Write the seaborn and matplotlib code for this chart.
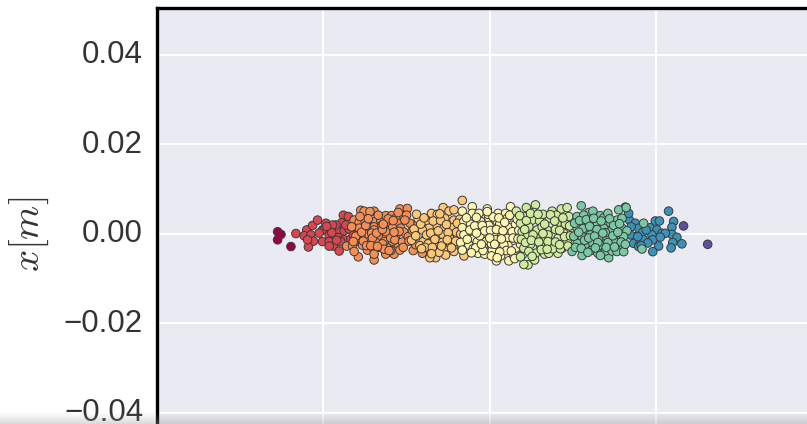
import matplotlib
matplotlib.use("Agg")
import matplotlib.pyplot as plt
import matplotlib.transforms as mtransforms
import numpy as np
import pandas as pd
import seaborn as sns

# Positions, in mm, one pair of lists per colour band
x_dark = [-25.5, -25.1, -25.5, -23.9]
y_dark = [0.5, -0.1, -1.3, -2.8]

x_red = [-23.3, -22.0, -22.3, -21.5, -21.2, -21.8, -21.3, -20.7, -21.9, -19.7, -20.1, -19.9,
         -18.9, -18.2, -17.5, -16.9, -17.6, -17.0, -17.8, -18.5, -19.3, -18.2, -17.5, -20.1,
         -19.3, -18.8, -19.3, -18.1, -16.7, -15.8, -15.7, -18.9, -17.9,
         -20.5, -19.0, -18.4, -17.3, -16.4, -19.6, -16.2]
y_red = [0.1, 0.9, -0.4, -0.2, -1.6, -2.9, 1.9, 3.1, -1.3, 2.4, 0.9, 1.0,
         1.0, 0.8, 0.7, 1.1, 4.2, 3.9, 2.5, 2.0, -0.2, -0.8, -1.3, -1.7,
         -1.7, -2.7, -2.7, -3.8, -1.1, -1.6, 0.5, 2.0, -1.7,
         0.2, 0.3, -1.4, 2.0, -0.3, 1.7, 2.4]

x_orange = [-15.5, -15.1, -13.9, -14.4, -16.3, -15.7, -15.0, -13.7, -13.1, -12.5, -11.8, -10.8,
            -9.9, -10.6, -10.0, -11.3, -12.3, -13.0, -14.5, -13.9, -15.7, -11.1, -11.7, -13.1,
            -10.7, -14.8, -14.0, -13.3, -12.4, -11.3, -13.9, -12.5, -15.5, -17.2, -16.5, -15.3,
            -14.7, -13.9, -13.1, -12.0, -11.1, -14.5, -13.7, -12.7, -11.7, -15.8, -16.3, -13.9,
            -13.9, -12.5, -11.5, -10.8, -9.2, -8.1, -16.0, -14.2, -12.9, -10.3, -9.6, -11.9,
            -16.6, -16.1, -15.4, -15.2, -14.9, -14.6, -14.1, -13.6, -13.4, -12.9, -12.7, -12.2,
            -11.9, -11.6, -11.4, -10.9, -10.5, -10.2, -9.8, -9.3, -8.9, -8.6, -16.4, -15.6,
            -14.8, -14.3, -13.5, -12.8, -12.1, -11.5, -11.0, -10.4, -9.7]
y_orange = [5.3, 5.1, 5.1, 5.0, 3.1, 2.6, 2.9, 2.9, 3.1, 4.1, 4.1, 5.6,
            5.7, 4.2, 4.2, 3.5, 2.6, 1.9, 1.4, 1.6, 1.3, 2.4, 1.4, 1.3,
            1.3, -0.1, -0.2, -0.8, -0.4, -0.4, 0.9, 0.5, -0.6, -2.7, -2.7, -2.5,
            -3.6, -3.6, -3.0, -2.8, -2.1, -1.7, -1.9, -1.7, -1.6, -5.1, -3.9, -5.8,
            -4.5, -4.5, -4.5, -3.6, -3.7, -4.3, -0.9, 0.2, -2.2, 0.4, 2.4, -3.7,
            1.6, -0.5, 0.4, -1.6, 1.9, 3.4, -0.9, 0.2, 4.2, 1.0, -3.4, 3.4,
            -0.9, 3.0, -1.3, 0.6, -1.8, 3.1, -0.6, 0.8, -2.4, 2.3, -1.7, 3.9,
            -2.6, -2.6, -2.8, 2.2, -3.7, 0.4, 4.8, -3.0, -1.6]

x_amber = [-7.0, -5.6, -4.9, -4.3, -6.3, -7.5, -5.4, -4.3, -6.4, -7.3, -5.5, -8.1,
           -6.5, -7.7, -5.6, -4.5, -6.7, -5.7, -8.0, -7.2, -5.5, -4.3, -6.5, -7.2,
           -5.3, -3.1, -3.7, -4.7, -3.3, -2.1, -4.3, -8.6, -9.1, -9.4, -6.1, -8.4,
           -8.8, -8.3, -7.9, -7.6, -7.1, -6.8, -6.2, -5.9, -5.2, -4.8, -4.0, -3.6,
           -8.9, -7.4, -6.6, -6.0, -5.0, -4.1, -3.5, -7.8, -6.9, -5.8, -4.6, -3.9,
           -8.2, -7.0, -5.1, -3.4]
y_amber = [4.6, 5.9, 5.1, 5.4, 4.4, 2.9, 3.5, 3.1, 2.0, 1.3, 1.3, 0.9,
           -0.1, -1.0, -0.2, 1.4, -2.3, -1.9, -1.7, -3.6, -3.2, -3.9, -5.3, -5.3,
           -4.7, -4.9, -0.8, -2.3, 7.5, 0.5, -0.4, 3.4, 1.1, -1.4, -4.1, -2.6,
           4.4, 2.2, 3.6, -0.2, 0.2, 2.9, 0.7, 3.0, 2.1, -1.0, 0.4, 3.3,
           -0.4, -2.2, -1.2, 4.5, 0.3, -1.6, 0.0, -3.0, -3.0, -2.7, -3.1, 2.4,
           -3.3, -4.4, -1.3, -2.8]

x_pale = [-2.1, -3.3, -2.1, -0.3, -1.3, 1.0, 2.5, 1.9, -3.1, -2.3, -3.3, -1.1,
          -0.1, 0.9, 2.1, -1.1, -0.1, 1.2, 2.3, 3.1, -3.1, -1.9, -0.5, 0.5,
          1.5, 2.5, -2.5, -1.5, -0.4, 0.7, 2.1, -3.5, -1.4, -0.6, 0.3, 1.3,
          2.2, 3.1, 3.7, 0.8, 1.3, 2.3, 2.9, 3.9, -3.3, -2.0, -0.8, 0.2, 1.7,
          -2.8, -2.4, -1.8, -1.6, -1.2, -0.9, -0.6, -0.2, 0.1, 0.4, 0.8, 1.1,
          1.6, 1.8, 2.4, 2.7, 3.3, 3.5, -2.7, -1.7, -0.8, 0.0, 0.6, 1.4,
          2.0, 2.8, 3.4, -2.2, -1.0, 0.2, 1.2, 2.6, -1.6, 0.9, 3.0, -0.3]
y_pale = [6.1, 5.1, 4.6, 5.6, 4.6, 4.6, 6.1, 4.6, 2.8, 2.2, 1.4, 2.8,
          3.5, 2.8, 3.5, 1.1, 1.9, 2.2, 1.4, 2.2, -0.2, -1.0, -0.2, 0.15,
          -0.1, -0.2, -2.5, -1.7, -1.6, -1.3, -1.0, -1.9, -4.3, -4.5, -3.6, -3.2,
          -2.6, -3.2, -2.3, -6.0, -4.9, -6.0, -4.9, -4.7, -3.6, -3.3, -2.9, -2.2, -2.4,
          3.6, 0.9, 1.8, 3.7, -0.4, 1.9, 0.7, 4.4, 0.8, 3.8, 1.0, 3.6,
          0.7, 2.6, 4.2, 0.5, 3.3, 0.8, -1.2, -3.1, -3.7, -0.9, -2.3, -1.1,
          -3.7, -0.9, -1.1, -4.2, -2.3, -4.9, -4.0, -3.8, 0.2, -5.3, -5.5, 5.0]

x_lime = [3.2, 4.4, 5.5, 5.3, 4.1, 5.1, 6.0, 3.7, 4.7, 5.7, 3.9, 6.9,
          7.5, 8.6, 9.3, 8.0, 7.2, 8.1, 9.5, 9.1, 4.5, 5.6, 6.7, 7.7,
          4.9, 6.1, 7.5, 8.2, 4.1, 5.5, 6.6, 8.2, 4.6, 4.1, 5.4, 3.7,
          8.9, 9.3, 8.7, 7.1, 6.4, 7.9, 10.0,
          3.6, 4.2, 4.4, 4.9, 5.2, 5.8, 6.3, 6.6, 7.0, 7.3, 7.8, 8.4, 8.8, 9.6,
          3.8, 4.3, 5.0, 5.9, 6.4, 7.0, 7.6, 8.5, 9.0, 9.7, 4.7, 6.2, 7.9, 9.4,
          5.1, 6.9, 8.4]
y_lime = [5.1, 5.9, 6.5, 4.8, 3.9, 3.1, 2.9, 2.4, 1.6, 0.9, 0.5, 0.9,
          5.1, 5.6, 5.9, 4.2, 3.5, 2.2, 3.9, 2.2, -0.6, -1.0, -0.8, -0.1,
          -2.3, -2.6, -2.5, -1.0, -3.2, -4.3, -4.5, -4.3, -6.9, -6.8, -5.8, -5.1,
          0.15, -1.7, -3.2, -4.3, 4.4, 1.0, 1.2,
          4.1, 1.0, 3.0, 4.6, -0.2, 4.4, 1.6, 2.2, -0.2, 4.3, 2.9, 0.8, 3.6, 1.8,
          -1.2, -1.9, -1.4, -1.8, 0.1, -1.7, -3.3, -3.3, -0.6, -0.4, -3.9, -3.5, -1.8, -2.7,
          -5.0, -3.4, -2.4]

x_green = [11.0, 11.9, 12.4, 10.5, 11.3, 11.5, 12.8, 13.3, 13.7, 14.2, 14.5, 15.3,
           15.5, 15.9, 12.1, 10.5, 11.7, 12.7, 13.7, 14.7, 15.9, 16.5, 11.1, 12.1,
           13.1, 14.1, 15.1, 16.1, 10.5, 11.5, 12.4, 13.3, 15.1, 16.0, 9.9, 11.1,
           12.3, 13.0, 14.3, 13.9, 14.7, 15.3, 13.3, 18.5, 18.3, 16.1, 16.4,
           10.2, 10.8, 11.2, 11.6, 12.0, 12.5, 12.9, 13.4, 13.9, 14.4, 14.9, 15.6,
           10.1, 10.7, 11.4, 11.9, 12.6, 13.0, 13.6, 14.2, 14.8, 15.4, 15.8,
           10.3, 11.0, 11.8, 12.7, 14.0, 15.0, 16.3]
y_green = [6.3, 4.8, 5.1, 3.9, 4.2, 2.4, 2.2, 4.1, 3.6, 4.6, 2.5, 3.1,
           5.4, 3.5, 3.1, 1.3, 0.5, 0.9, 1.3, 0.9, 1.3, 0.7, -0.6, -0.2,
           -1.0, -0.8, -1.6, -0.6, -2.1, -2.3, -2.1, -2.6, -1.9, -3.2, -3.9, -4.8,
           -3.6, -4.3, -5.3, -3.8, -3.8, -3.9, -4.8, 2.4, -3.35, -3.95, 5.9,
           2.4, 3.0, 1.2, 3.2, 1.7, 3.5, 1.0, 2.9, 0.3, 3.4, 1.9, 2.3,
           -0.5, 0.4, -1.4, -0.9, -0.5, -1.9, 0.2, -1.9, -0.4, 0.4, -1.8,
           -3.0, -3.2, -4.1, -3.1, -3.0, -2.9, -2.3]

x_blue = [16.8, 17.5, 17.9, 18.4, 17.5, 17.3, 18.1, 18.5, 19.3, 20.1, 20.7, 19.5,
          19.6, 19.9, 20.4, 21.5, 22.1, 21.9, 21.9, 22.5, 23.1, 22.0, 21.8, 20.3,
          19.6, 16.9, 17.9, 21.1, 16.3, 16.7,
          17.0, 17.8, 18.8, 19.0, 18.2, 20.5]
y_blue = [3.1, 2.4, 1.3, 0.4, -0.6, -2.1, -1.7, -1.3, 1.4, 0.9, 0.15, -0.2,
          -1.3, 2.9, 2.9, 5.1, 2.8, 1.5, -0.1, -0.75, -2.2, -1.9, -3.1, -2.7,
          -3.95, -0.2, -2.8, 0.15, 6.0, 4.6,
          1.6, -0.6, 0.9, -2.0, -2.6, -0.7]

x_violet = [23.3, 26.2]
y_violet = [1.8, -2.3]

# Draw order and position on the Spectral map for each band
band_x = [x_dark, x_red, x_orange, x_amber, x_pale, x_lime, x_blue, x_green, x_violet]
band_y = [y_dark, y_red, y_orange, y_amber, y_pale, y_lime, y_blue, y_green, y_violet]
band_tone = [0.0, 0.12, 0.25, 0.35, 0.47, 0.64, 0.88, 0.77, 1.0]

y_ticks = [-0.04, -0.02, 0.0, 0.02, 0.04]
x_ticks = [-0.02, 0.0, 0.02]

df = pd.DataFrame({
    "x": np.concatenate(band_x) / 1000,
    "y": np.concatenate(band_y) / 1000,
    "tone": np.concatenate([[t] * len(b) for t, b in zip(band_tone, band_x)]),
})

sns.set_style("darkgrid")
plt.rcParams["font.family"] = ["Liberation Sans", "DejaVu Sans"]
plt.rcParams["mathtext.fontset"] = "cm"

fig = plt.figure(figsize=(8.07, 4.24), dpi=100)
ax = fig.add_axes([157 / 807, 0, 650 / 807, 416 / 424])

sns.scatterplot(data=df, x="x", y="y", hue="tone", palette="Spectral", hue_norm=(0, 1),
                s=38, edgecolor="#3a3a3a", linewidth=0.7, legend=False, ax=ax)

ax.set_xlim(-0.04, 0.03814)
ax.set_ylim(-0.04246, 0.0505)
ax.set_xticks(x_ticks)
ax.set_yticks(y_ticks)
ax.grid(True, color="white", linewidth=1.4)
ax.tick_params(axis="x", labelbottom=False, length=0)
ax.tick_params(axis="y", labelsize=22.5, length=0, pad=10, colors="#333333")
ax.set_xlabel("")
ax.set_ylabel(r"$x[m]$", fontsize=28, labelpad=9, color="#333333", y=0.457)

# Tick labels sit a little above their grid lines in the reference
lift = mtransforms.ScaledTranslation(0, 3 / 72 * 0.72, fig.dpi_scale_trans)
for label in ax.get_yticklabels():
    label.set_transform(label.get_transform() + lift)

# Only the left and top edges fall inside the crop
for side in ["left", "top"]:
    ax.spines[side].set_visible(True)
    ax.spines[side].set_color("black")
    ax.spines[side].set_linewidth(2.4)
for side in ["right", "bottom"]:
    ax.spines[side].set_visible(False)

# Grey fade along the bottom edge of the screenshot
fade = fig.add_axes([0, 0, 1, 12 / 424], zorder=5)
ramp = np.zeros((12, 1, 4))
ramp[..., :3] = 0.6
ramp[:, 0, 3] = np.linspace(0.0, 0.35, 12)
fade.imshow(ramp, aspect="auto")
fade.axis("off")

plt.savefig("out.png", dpi=100)
plt.close()
